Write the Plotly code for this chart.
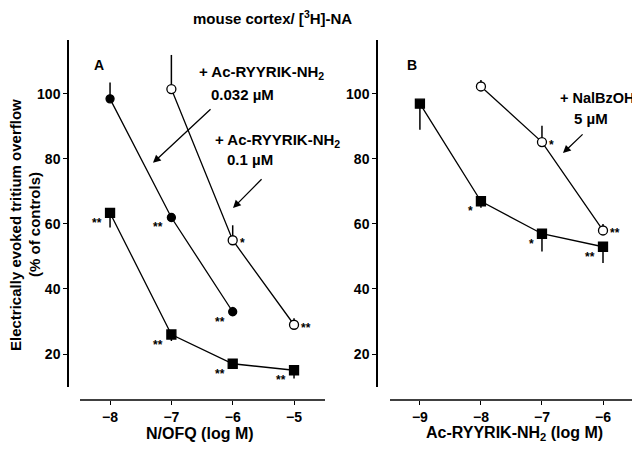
import plotly.graph_objects as go

# panel A: N/OFQ concentration-response (log M)
a_sq_x = [-8, -7, -6, -5]
a_sq_y = [63.4, 26, 17, 15]
a_sq_up = [0, 0, 0, 0]
a_sq_dn = [4.5, 2, 0, 2.5]

a_fc_x = [-8, -7, -6]
a_fc_y = [98.5, 62, 33]
a_fc_up = [5, 0, 1.5]
a_fc_dn = [0, 0, 0]

a_oc_x = [-7, -6, -5]
a_oc_y = [101.5, 55, 29]
a_oc_up = [10.5, 4.6, 2]
a_oc_dn = [0, 0, 0]

# panel B: Ac-RYYRIK-NH2 alone and + NalBzOH
b_sq_x = [-9, -8, -7, -6]
b_sq_y = [97, 67, 57, 53]
b_sq_up = [0, 0, 0, 0]
b_sq_dn = [8, 2, 5.5, 5]

b_oc_x = [-8, -7, -6]
b_oc_y = [102.3, 85.2, 58]
b_oc_up = [2, 5, 2]
b_oc_dn = [0, 0, 0]

a_ticks = [-8, -7, -6, -5]
b_ticks = [-9, -8, -7, -6]
y_ticks = [20, 40, 60, 80, 100]

# significance marks: (panel, x, y, text, side)
stars = [
    ("A", -8, 63.4, "**", "l"), ("A", -7, 26, "**", "l"),
    ("A", -6, 17, "**", "l"), ("A", -5, 15, "**", "l"),
    ("A", -7, 62, "**", "l"), ("A", -6, 33, "**", "l"),
    ("A", -6, 55, "*", "r"), ("A", -5, 29, "**", "r"),
    ("B", -8, 67, "*", "l"), ("B", -7, 57, "*", "l"),
    ("B", -6, 53, "**", "l"),
    ("B", -7, 85.2, "*", "r"), ("B", -6, 58, "**", "r"),
]

FONT = "Liberation Sans, Arial, sans-serif"
# the page body adds an 8px margin, so the figure is a bit smaller than the window
W, H = 632, 443
OFF = 8


def px(v):
    return (v - OFF) / W


def py(v):
    return (H + OFF - v) / H


def series(x, y, up, dn, symbol, fill, size, xa, ya):
    return go.Scatter(
        x=x, y=y, mode="lines+markers", xaxis=xa, yaxis=ya,
        line=dict(color="black", width=1.3),
        marker=dict(symbol=symbol, size=size, color=fill,
                    line=dict(color="black", width=1.3)),
        error_y=dict(type="data", symmetric=False, array=up, arrayminus=dn,
                     color="black", thickness=1.5, width=0),
        showlegend=False, cliponaxis=False)


fig = go.Figure()
fig.add_trace(series(a_sq_x, a_sq_y, a_sq_up, a_sq_dn, "square", "black", 9, "x", "y"))
fig.add_trace(series(a_fc_x, a_fc_y, a_fc_up, a_fc_dn, "circle", "black", 8, "x", "y"))
fig.add_trace(series(a_oc_x, a_oc_y, a_oc_up, a_oc_dn, "circle", "white", 9, "x", "y"))
fig.add_trace(series(b_sq_x, b_sq_y, b_sq_up, b_sq_dn, "square", "black", 9, "x2", "y2"))
fig.add_trace(series(b_oc_x, b_oc_y, b_oc_up, b_oc_dn, "circle", "white", 9, "x2", "y2"))

tickfont = dict(family=FONT, size=14, color="black", weight="bold")
axis_common = dict(showgrid=False, zeroline=False, linecolor="black",
                   linewidth=1.5, ticks="outside", ticklen=4, tickwidth=1.3,
                   tickcolor="black", tickfont=tickfont, automargin=False)
yrange = [9.85, 116.6]

fig.update_layout(
    width=W, height=H, margin=dict(l=0, r=0, t=0, b=0),
    paper_bgcolor="white", plot_bgcolor="white",
    xaxis=dict(domain=[px(80), px(325)], range=[-8.49, -4.495], anchor="free",
               position=py(400), tickvals=a_ticks, showline=False, **axis_common),
    yaxis=dict(domain=[py(387), py(40)], range=yrange, anchor="free",
               position=px(68), tickvals=y_ticks, showline=True, **axis_common),
    xaxis2=dict(domain=[px(390), px(637)], range=[-9.49, -5.443], anchor="free",
                position=py(400), tickvals=b_ticks, showline=False, **axis_common),
    yaxis2=dict(domain=[py(387), py(40)], range=yrange, anchor="free",
                position=px(377), tickvals=y_ticks, showline=True, **axis_common),
)

# detached x-axis lines
for xr in ["x domain", "x2 domain"]:
    fig.add_shape(type="line", xref=xr, yref="paper", x0=0, x1=1,
                  y0=py(400), y1=py(400), line=dict(color="black", width=1.5))

bold = lambda s: dict(family=FONT, size=s, color="black", weight="bold")
ann = []

# title and axis titles
paper_txt = [
    ("mouse cortex/ [<sup>3</sup>H]-NA", 272, 17, 0, 15),
    ("Electrically evoked tritium overflow", 15, 225, -90, 15),
    ("(% of controls)", 34, 225, -90, 15),
    ("N/OFQ (log M)", 200, 433, 0, 16),
    ("Ac-RYYRIK-NH<sub>2</sub> (log M)", 515, 433, 0, 16),
]
for t, x, y, ang, s in paper_txt:
    ann.append(dict(text=t, x=px(x), y=py(y), xref="paper", yref="paper",
                    xanchor="center", yanchor="middle", showarrow=False,
                    textangle=ang, font=bold(s)))

# panel letters
ann.append(dict(text="A", x=-8.18, y=108.9, xref="x", yref="y", showarrow=False, font=bold(14)))
ann.append(dict(text="B", x=-9.13, y=108.9, xref="x2", yref="y2", showarrow=False, font=bold(14)))

# condition labels
labels = [
    ("x", "y", -6.58, 106.5, "+ Ac-RYYRIK-NH<sub>2</sub>", 15),
    ("x", "y", -6.386, 99.7, "0.032 µM", 15),
    ("x", "y", -6.32, 85.8, "+ Ac-RYYRIK-NH<sub>2</sub>", 15),
    ("x", "y", -6.125, 79.7, "0.1 µM", 15),
    ("x2", "y2", -6.74, 98.8, "+ NalBzOH", 14.5),
    ("x2", "y2", -6.51, 92.3, "5 µM", 15),
]
for xr, yr, x, y, t, s in labels:
    ann.append(dict(text=t, x=x, y=y, xref=xr, yref=yr, xanchor="left",
                    showarrow=False, font=bold(s)))

# arrows (head, tail)
arrows = [
    ("x", "y", -7.30, 78.8, -6.337, 95.7),
    ("x", "y", -5.995, 64.9, -5.505, 74.2),
    ("x2", "y2", -6.656, 81.8, -6.31, 88.0),
]
for xr, yr, x, y, tx, ty in arrows:
    ann.append(dict(text="", x=x, y=y, ax=tx, ay=ty, xref=xr, yref=yr,
                    axref=xr, ayref=yr, showarrow=True, arrowhead=2,
                    arrowsize=1.2, arrowwidth=1.3, arrowcolor="black"))

for panel, x, y, t, side in stars:
    xr, yr = ("x", "y") if panel == "A" else ("x2", "y2")
    if side == "l":
        ann.append(dict(text=t, x=x, y=y, xref=xr, yref=yr, showarrow=False,
                        xanchor="right", xshift=-6, yshift=-10, font=bold(12)))
    else:
        ann.append(dict(text=t, x=x, y=y, xref=xr, yref=yr, showarrow=False,
                        xanchor="left", xshift=5, yshift=-3, font=bold(12)))

fig.update_layout(annotations=ann)
fig.write_html("out.html")
